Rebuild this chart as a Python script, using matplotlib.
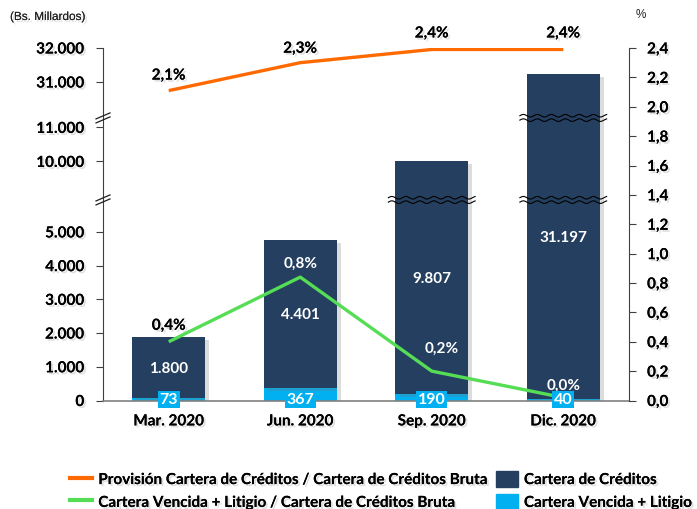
import numpy as np
import matplotlib
matplotlib.use('Agg')
import matplotlib.pyplot as plt
from matplotlib import patheffects as pe
from matplotlib.lines import Line2D
from matplotlib.patches import Patch

# ---------------- data ----------------
categories = ['Mar. 2020', 'Jun. 2020', 'Sep. 2020', 'Dic. 2020']
cartera = [1800, 4401, 9807, 31197]
vencida = [73, 367, 190, 40]
provision_pct = [2.11, 2.30, 2.39, 2.39]
vencida_pct = [0.40, 0.84, 0.20, 0.02]
provision_labels = ['2,1%', '2,3%', '2,4%', '2,4%']
vencida_pct_labels = ['0,4%', '0,8%', '0,2%', '0,0%']
cartera_labels = ['1.800', '4.401', '9.807', '31.197']
vencida_labels = ['73', '367', '190', '40']
left_ticks = [0, 1000, 2000, 3000, 4000, 5000, 10000, 11000, 31000, 32000]
left_tick_labels = ['0', '1.000', '2.000', '3.000', '4.000', '5.000',
                    '10.000', '11.000', '31.000', '32.000']
right_ticks = [0.0, 0.2, 0.4, 0.6, 0.8, 1.0, 1.2, 1.4, 1.6, 1.8, 2.0, 2.2, 2.4]
right_tick_labels = ['0,0', '0,2', '0,4', '0,6', '0,8', '1,0', '1,2', '1,4',
                     '1,6', '1,8', '2,0', '2,2', '2,4']

# broken-axis scale knots (value -> display units)
val_knots = np.array([0, 5000, 10000, 11000, 31000, 32000], float)
disp_knots = np.array([0, 168.5, 239, 273, 318.4, 352.4], float)
break_disp = [200.5, 282.5]


def _pw(x, xk, yk):
    x = np.asarray(x, float)
    y = np.interp(x, xk, yk)
    s0 = (yk[1] - yk[0]) / (xk[1] - xk[0])
    s1 = (yk[-1] - yk[-2]) / (xk[-1] - xk[-2])
    y = np.where(x < xk[0], yk[0] + (x - xk[0]) * s0, y)
    y = np.where(x > xk[-1], yk[-1] + (x - xk[-1]) * s1, y)
    return y


def fwd(v):
    return _pw(v, val_knots, disp_knots)


def inv(d):
    return _pw(d, disp_knots, val_knots)


NAVY = '#253F60'
BLUE = '#00B0F0'
ORANGE = '#FF6A00'
GREEN = '#55DD55'
FONT = 'Lato'

shadow = [pe.withSimplePatchShadow(offset=(1.5, -1.5), shadow_rgbFace='#999999', alpha=0.3), pe.Normal()]

fig = plt.figure(figsize=(6.97, 5.10), dpi=100)
ax = fig.add_axes([103 / 697, 1 - 401.5 / 510, 526 / 697, 352.5 / 510])
ax.set_yscale('function', functions=(fwd, inv))
ax.set_xlim(-0.5, 3.5)
ax.set_ylim(0, 32000)

x = np.arange(len(categories))
w = 0.555
bar_shadow = [pe.withSimplePatchShadow(offset=(3, -2), shadow_rgbFace='#777777', alpha=0.25), pe.Normal()]
b1 = ax.bar(x, vencida, w, color=BLUE, zorder=2, path_effects=bar_shadow)
b2 = ax.bar(x, cartera, w, bottom=vencida, color=NAVY, zorder=2, path_effects=bar_shadow)

# spines / ticks
ax.spines['top'].set_visible(False)
ax.spines['left'].set_color('#404040')
ax.spines['bottom'].set_color('#808080')
ax.spines['bottom'].set_linewidth(1.2)
ax.spines['right'].set_visible(False)
ax.set_yticks(left_ticks)
ax.set_yticklabels(left_tick_labels)
ax.tick_params(axis='y', direction='out', length=5, pad=8.5, color='#404040')
ax.set_xticks(x)
ax.set_xticklabels(categories)
ax.tick_params(axis='x', length=0, pad=10)
for lab in ax.get_yticklabels() + ax.get_xticklabels():
    lab.set_fontfamily(FONT)
    lab.set_fontweight('bold')
    lab.set_fontsize(11)
    lab.set_path_effects(shadow)

ax2 = ax.twinx()
ax2.set_ylim(0, 2.4)
ax2.set_xlim(-0.5, 3.5)
for s in ['top', 'left', 'bottom']:
    ax2.spines[s].set_visible(False)
ax2.spines['right'].set_color('#404040')
ax2.set_yticks(right_ticks)
ax2.set_yticklabels(right_tick_labels)
ax2.tick_params(axis='y', direction='out', length=5, pad=8, color='#404040')
for lab in ax2.get_yticklabels():
    lab.set_fontfamily(FONT)
    lab.set_fontweight('bold')
    lab.set_fontsize(11)
    lab.set_path_effects(shadow)

ax2.plot(x, provision_pct, color=ORANGE, lw=2.4, solid_capstyle='butt', zorder=3)
ax2.plot(x, vencida_pct, color=GREEN, lw=2.4, solid_capstyle='butt', zorder=3)

# line labels
prov_off = [(0, 15), (0, 14), (0, 16), (0, 16)]
for xi, yi, s, o in zip(x, provision_pct, provision_labels, prov_off):
    ax2.annotate(s, (xi, yi), xytext=o, textcoords='offset pixels', ha='center', va='center',
                 fontfamily=FONT, fontweight='bold', fontsize=11, color='black',
                 path_effects=shadow, zorder=5)
ven_off = [(0, 16), (0, 14), (10, 23), (0, 13)]
ven_col = ['black', 'white', 'white', 'white']
for xi, yi, s, o, c in zip(x, vencida_pct, vencida_pct_labels, ven_off, ven_col):
    ax2.annotate(s, (xi, yi), xytext=o, textcoords='offset pixels', ha='center', va='center',
                 fontfamily=FONT, fontweight='bold', fontsize=11, color=c,
                 path_effects=shadow if c == 'black' else None, zorder=5)

# bar value labels
for xi, b, h, s in zip(x, vencida, cartera, cartera_labels):
    yc = inv((fwd(b) + fwd(b + h)) / 2)
    ax2.text(xi, float(yc), s, transform=ax.transData, ha='center', va='center',
             fontfamily=FONT, fontweight='bold', fontsize=11, color='white', zorder=6)
for xi, s in zip(x, vencida_labels):
    ax2.text(xi, float(inv(1.0)), s, transform=ax.transData, ha='center', va='center',
             fontfamily=FONT, fontweight='bold', fontsize=11.5, color='white', zorder=7,
             bbox=dict(boxstyle='square,pad=0.1', fc=BLUE, ec='none'))

# breaks: left spine
ytr = ax.get_yaxis_transform()
for bd in break_disp:
    for dd in (-2.0, 2.0):
        xs = np.array([-7, 7]) / 526.0
        ys = inv(np.array([bd + dd - 3, bd + dd + 3]))
        ax.plot(xs, ys, color='#202020', lw=0.9, transform=ytr, clip_on=False, zorder=8)

# breaks: wavy lines across bars
bars_with_breaks = [(2, break_disp[0]), (3, break_disp[0]), (3, break_disp[1])]
for bi, bd in bars_with_breaks:
    xx = np.linspace(x[bi] - 0.33, x[bi] + 0.33, 200)
    phase = (xx - xx[0]) * 131.5 / 14.0 * 2 * np.pi
    for dd in (-2.2, 2.2):
        yy = inv(bd + dd + 1.3 * np.sin(phase))
        ax.plot(xx, yy, color='black', lw=0.8, zorder=4)

# axis captions
fig.text(10 / 697, 1 - 18 / 510, '(Bs. Millardos)', fontfamily='Liberation Sans', fontsize=8.5,
         ha='left', va='center', color='#222222', path_effects=shadow)
fig.text(641 / 697, 1 - 15 / 510, '%', fontfamily='Liberation Sans', fontsize=8.5,
         ha='center', va='center', color='#222222')

# legend
handles = [Line2D([], [], color=ORANGE, lw=3),
           Line2D([], [], color=GREEN, lw=3),
           Patch(color=NAVY), Patch(color=BLUE)]
labels = ['Provisión Cartera de Créditos / Cartera de Créditos Bruta',
          'Cartera Vencida + Litigio / Cartera de Créditos Bruta',
          'Cartera de Créditos', 'Cartera Vencida + Litigio']
leg = fig.legend(handles, labels, ncol=2, loc='center left',
                 bbox_to_anchor=(70 / 697, 1 - 491.5 / 510), frameon=False,
                 prop=dict(family=FONT, weight='bold', size=11),
                 handlelength=1.45, handleheight=1.2, handletextpad=0.4,
                 columnspacing=0.6, labelspacing=0.45, borderpad=0, borderaxespad=0)
for t in leg.get_texts():
    t.set_path_effects(shadow)

fig.savefig('out.png', dpi=100)
